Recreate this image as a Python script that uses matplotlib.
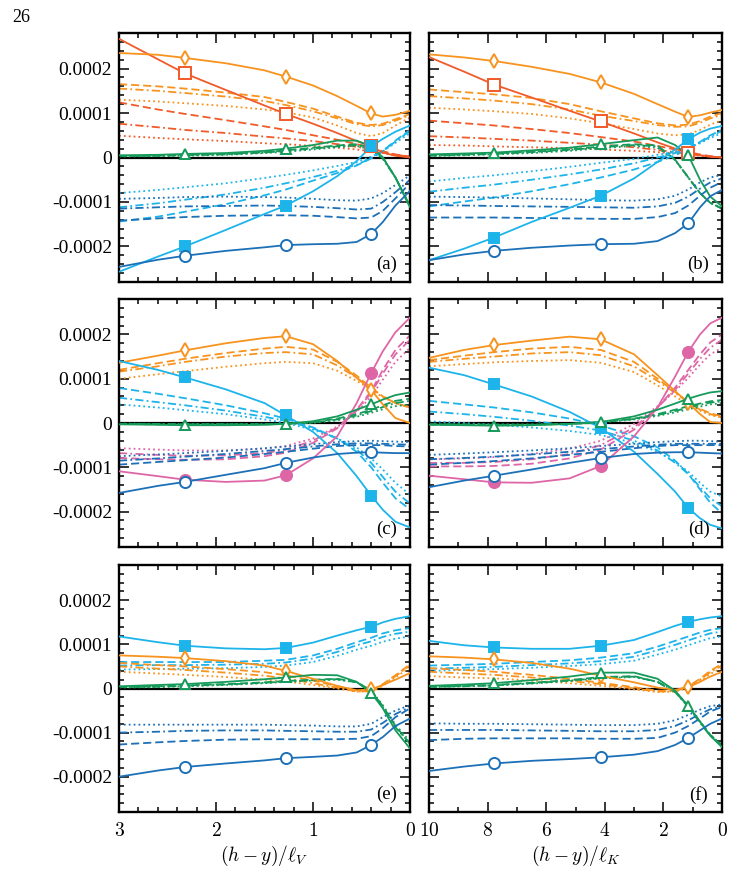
import matplotlib
matplotlib.use("Agg")
import matplotlib.pyplot as plt
from matplotlib.ticker import MultipleLocator, FuncFormatter

plt.rcParams["font.family"] = ["Liberation Serif", "DejaVu Serif"]
plt.rcParams["mathtext.fontset"] = "cm"

SCALE = 1e-4  # values below are in units of 1e-4

# x sample positions (left column: (h-y)/l_V, right column: (h-y)/l_K)
XL = [3, 2.6, 2.32, 1.9, 1.5, 1.28, 1.0, 0.75, 0.55, 0.4, 0.28, 0.15, 0]
XR = [10, 8.8, 7.78, 6.5, 5.2, 4.14, 3, 2.2, 1.6, 1.15, 0.75, 0.4, 0]
MARK_IDX = [2, 5, 9]

# Each family: [solid, dashed, dash-dot, dotted]
# ---------------- panel (a) ----------------
A_RED = [
    [2.67, 2.21, 1.89, 1.52, 1.17, 0.98, 0.76, 0.55, 0.37, 0.25, 0.11, 0.04, 0.0],
    [1.24, 1.08, 0.98, 0.84, 0.70, 0.62, 0.50, 0.40, 0.30, 0.22, 0.14, 0.07, 0.02],
    [0.76, 0.68, 0.62, 0.55, 0.47, 0.43, 0.37, 0.30, 0.24, 0.18, 0.12, 0.06, 0.02],
    [0.49, 0.44, 0.41, 0.37, 0.32, 0.30, 0.26, 0.22, 0.18, 0.14, 0.10, 0.05, 0.02],
]
A_ORANGE = [
    [2.35, 2.31, 2.24, 2.12, 1.96, 1.82, 1.62, 1.38, 1.16, 0.99, 0.92, 0.96, 1.05],
    [1.65, 1.60, 1.55, 1.46, 1.36, 1.25, 1.10, 0.92, 0.78, 0.73, 0.76, 0.86, 0.98],
    [1.55, 1.50, 1.45, 1.37, 1.27, 1.18, 1.04, 0.88, 0.75, 0.70, 0.73, 0.83, 0.95],
    [1.30, 1.26, 1.22, 1.16, 1.08, 1.02, 0.90, 0.72, 0.55, 0.48, 0.55, 0.72, 0.90],
]
A_GREEN = [
    [0.05, 0.06, 0.08, 0.10, 0.15, 0.20, 0.28, 0.38, 0.38, 0.25, 0.00, -0.45, -1.12],
    [0.03, 0.04, 0.06, 0.08, 0.12, 0.16, 0.22, 0.27, 0.30, 0.22, 0.00, -0.45, -1.10],
    [0.03, 0.04, 0.05, 0.07, 0.11, 0.15, 0.20, 0.25, 0.28, 0.20, -0.02, -0.45, -1.10],
    [0.02, 0.03, 0.04, 0.06, 0.10, 0.13, 0.18, 0.23, 0.26, 0.18, -0.03, -0.45, -1.08],
]
A_LBLUE = [
    [-2.57, -2.23, -2.00, -1.63, -1.27, -1.08, -0.76, -0.42, -0.08, 0.25, 0.42, 0.58, 0.72],
    [-1.44, -1.33, -1.22, -1.05, -0.85, -0.72, -0.52, -0.35, -0.18, -0.02, 0.15, 0.38, 0.62],
    [-1.12, -1.03, -0.95, -0.83, -0.68, -0.58, -0.44, -0.30, -0.16, -0.02, 0.14, 0.36, 0.60],
    [-0.80, -0.73, -0.67, -0.58, -0.46, -0.39, -0.29, -0.19, -0.10, 0.02, 0.14, 0.33, 0.55],
]
A_DBLUE = [
    [-2.46, -2.30, -2.21, -2.10, -2.02, -1.97, -1.95, -1.94, -1.90, -1.72, -1.45, -1.08, -0.75],
    [-1.42, -1.37, -1.34, -1.31, -1.30, -1.30, -1.31, -1.34, -1.37, -1.35, -1.20, -0.92, -0.58],
    [-1.15, -1.12, -1.10, -1.09, -1.08, -1.09, -1.11, -1.14, -1.17, -1.15, -1.00, -0.78, -0.50],
    [-0.93, -0.91, -0.89, -0.88, -0.89, -0.90, -0.93, -0.96, -0.97, -0.92, -0.80, -0.62, -0.40],
]
# ---------------- panel (b) ----------------
B_RED = [
    [2.26, 1.93, 1.64, 1.35, 1.05, 0.81, 0.54, 0.34, 0.20, 0.10, 0.05, 0.02, 0.0],
    [0.83, 0.77, 0.72, 0.64, 0.55, 0.46, 0.36, 0.26, 0.18, 0.12, 0.07, 0.03, 0.0],
    [0.48, 0.45, 0.42, 0.38, 0.33, 0.29, 0.23, 0.17, 0.12, 0.08, 0.05, 0.02, 0.0],
    [0.28, 0.27, 0.25, 0.23, 0.21, 0.18, 0.15, 0.12, 0.09, 0.06, 0.04, 0.02, 0.0],
]
B_ORANGE = [
    [2.32, 2.25, 2.17, 2.04, 1.88, 1.69, 1.43, 1.20, 1.03, 0.91, 0.95, 1.01, 1.07],
    [1.53, 1.47, 1.42, 1.34, 1.20, 1.04, 0.88, 0.77, 0.72, 0.74, 0.82, 0.92, 1.00],
    [1.38, 1.33, 1.28, 1.20, 1.08, 0.94, 0.82, 0.73, 0.69, 0.70, 0.78, 0.88, 0.96],
    [1.12, 1.08, 1.04, 0.98, 0.88, 0.77, 0.64, 0.54, 0.50, 0.52, 0.62, 0.74, 0.84],
]
B_GREEN = [
    [0.07, 0.09, 0.11, 0.16, 0.22, 0.30, 0.39, 0.45, 0.28, 0.05, -0.50, -0.88, -1.10],
    [0.05, 0.07, 0.09, 0.13, 0.18, 0.25, 0.30, 0.27, -0.05, -0.45, -0.80, -1.02, -1.15],
    [0.04, 0.06, 0.08, 0.12, 0.17, 0.23, 0.28, 0.25, -0.05, -0.45, -0.80, -1.02, -1.15],
    [0.03, 0.05, 0.07, 0.10, 0.15, 0.21, 0.26, 0.22, -0.06, -0.45, -0.80, -1.02, -1.14],
]
B_LBLUE = [
    [-2.31, -2.05, -1.80, -1.45, -1.13, -0.86, -0.47, -0.10, 0.18, 0.41, 0.56, 0.65, 0.71],
    [-1.10, -0.99, -0.90, -0.76, -0.60, -0.45, -0.27, -0.10, 0.05, 0.20, 0.35, 0.50, 0.62],
    [-0.77, -0.68, -0.61, -0.50, -0.38, -0.27, -0.13, 0.00, 0.10, 0.22, 0.34, 0.47, 0.60],
    [-0.54, -0.46, -0.40, -0.31, -0.21, -0.12, -0.03, 0.06, 0.13, 0.22, 0.32, 0.44, 0.55],
]
B_DBLUE = [
    [-2.31, -2.18, -2.10, -2.03, -1.98, -1.95, -1.94, -1.88, -1.70, -1.48, -1.12, -0.87, -0.73],
    [-1.35, -1.35, -1.35, -1.36, -1.37, -1.38, -1.38, -1.34, -1.25, -1.08, -0.86, -0.68, -0.55],
    [-1.07, -1.08, -1.09, -1.10, -1.11, -1.12, -1.13, -1.10, -1.02, -0.88, -0.70, -0.56, -0.47],
    [-0.88, -0.89, -0.90, -0.92, -0.94, -0.96, -0.97, -0.94, -0.86, -0.72, -0.56, -0.45, -0.39],
]
# ---------------- panel (c) ----------------
C_ORANGE = [
    [1.36, 1.52, 1.64, 1.80, 1.92, 1.96, 1.78, 1.40, 1.02, 0.75, 0.42, 0.11, 0.0],
    [1.20, 1.35, 1.45, 1.58, 1.68, 1.72, 1.66, 1.38, 1.07, 0.80, 0.60, 0.45, 0.35],
    [1.16, 1.28, 1.38, 1.50, 1.58, 1.60, 1.55, 1.30, 1.02, 0.78, 0.60, 0.45, 0.35],
    [1.00, 1.10, 1.17, 1.27, 1.35, 1.38, 1.35, 1.18, 0.95, 0.75, 0.58, 0.45, 0.35],
]
C_LBLUE = [
    [1.40, 1.20, 1.03, 0.76, 0.45, 0.17, -0.20, -0.68, -1.20, -1.64, -1.96, -2.23, -2.36],
    [0.79, 0.66, 0.56, 0.40, 0.22, 0.10, -0.10, -0.35, -0.65, -1.00, -1.35, -1.70, -1.95],
    [0.57, 0.47, 0.40, 0.28, 0.14, 0.05, -0.12, -0.35, -0.60, -0.90, -1.22, -1.55, -1.82],
    [0.42, 0.35, 0.29, 0.20, 0.08, 0.00, -0.15, -0.35, -0.55, -0.80, -1.05, -1.35, -1.62],
]
C_PINK = [
    [-1.09, -1.20, -1.28, -1.33, -1.30, -1.18, -0.80, -0.30, 0.45, 1.13, 1.62, 2.05, 2.38],
    [-0.79, -0.82, -0.83, -0.82, -0.75, -0.67, -0.45, -0.12, 0.30, 0.72, 1.20, 1.65, 1.98],
    [-0.68, -0.72, -0.74, -0.73, -0.68, -0.60, -0.40, -0.10, 0.28, 0.68, 1.12, 1.55, 1.88],
    [-0.57, -0.60, -0.62, -0.62, -0.58, -0.52, -0.35, -0.08, 0.25, 0.60, 0.98, 1.38, 1.70],
]
C_DBLUE = [
    [-1.58, -1.42, -1.33, -1.17, -1.02, -0.90, -0.78, -0.70, -0.67, -0.66, -0.67, -0.68, -0.68],
    [-0.94, -0.88, -0.84, -0.78, -0.70, -0.65, -0.58, -0.52, -0.50, -0.50, -0.50, -0.52, -0.53],
    [-0.85, -0.80, -0.76, -0.70, -0.63, -0.59, -0.53, -0.48, -0.46, -0.46, -0.47, -0.48, -0.49],
    [-0.75, -0.71, -0.68, -0.63, -0.57, -0.53, -0.48, -0.43, -0.41, -0.40, -0.41, -0.42, -0.43],
]
C_GREEN = [
    [-0.03, -0.04, -0.05, -0.05, -0.04, -0.02, 0.04, 0.15, 0.30, 0.42, 0.53, 0.63, 0.69],
    [-0.02, -0.03, -0.03, -0.03, -0.03, -0.02, 0.02, 0.10, 0.20, 0.30, 0.40, 0.50, 0.55],
    [-0.02, -0.02, -0.03, -0.03, -0.03, -0.02, 0.01, 0.08, 0.17, 0.27, 0.36, 0.45, 0.50],
    [-0.01, -0.02, -0.02, -0.02, -0.02, -0.02, 0.00, 0.06, 0.14, 0.23, 0.31, 0.38, 0.42],
]
# ---------------- panel (d) ----------------
D_ORANGE = [
    [1.47, 1.65, 1.76, 1.86, 1.95, 1.89, 1.55, 1.08, 0.72, 0.45, 0.20, 0.02, 0.0],
    [1.42, 1.52, 1.60, 1.68, 1.72, 1.65, 1.38, 1.00, 0.70, 0.48, 0.32, 0.22, 0.15],
    [1.38, 1.45, 1.50, 1.57, 1.60, 1.53, 1.28, 0.95, 0.68, 0.47, 0.30, 0.20, 0.13],
    [1.28, 1.33, 1.37, 1.40, 1.42, 1.36, 1.15, 0.85, 0.60, 0.42, 0.28, 0.18, 0.12],
]
D_LBLUE = [
    [1.25, 1.08, 0.87, 0.60, 0.25, -0.11, -0.65, -1.15, -1.55, -1.92, -2.15, -2.30, -2.38],
    [0.50, 0.42, 0.35, 0.24, 0.10, -0.05, -0.30, -0.55, -0.85, -1.15, -1.50, -1.80, -2.04],
    [0.26, 0.20, 0.14, 0.05, -0.06, -0.17, -0.40, -0.62, -0.90, -1.15, -1.45, -1.70, -1.88],
    [0.04, 0.00, -0.04, -0.10, -0.18, -0.27, -0.45, -0.65, -0.88, -1.10, -1.35, -1.55, -1.66],
]
D_PINK = [
    [-1.19, -1.27, -1.34, -1.35, -1.25, -0.97, -0.30, 0.35, 1.05, 1.61, 2.00, 2.25, 2.38],
    [-0.98, -0.98, -0.97, -0.92, -0.80, -0.60, -0.15, 0.35, 0.80, 1.20, 1.55, 1.82, 2.00],
    [-0.90, -0.90, -0.88, -0.82, -0.70, -0.50, -0.10, 0.35, 0.75, 1.12, 1.45, 1.70, 1.88],
    [-0.82, -0.80, -0.77, -0.70, -0.58, -0.40, -0.02, 0.38, 0.72, 1.02, 1.32, 1.55, 1.70],
]
D_DBLUE = [
    [-1.45, -1.30, -1.19, -1.05, -0.90, -0.79, -0.70, -0.67, -0.66, -0.66, -0.67, -0.68, -0.69],
    [-0.94, -0.90, -0.86, -0.80, -0.72, -0.65, -0.57, -0.52, -0.50, -0.50, -0.50, -0.50, -0.50],
    [-0.82, -0.79, -0.76, -0.71, -0.65, -0.59, -0.53, -0.49, -0.47, -0.47, -0.47, -0.47, -0.47],
    [-0.72, -0.69, -0.66, -0.62, -0.57, -0.52, -0.47, -0.43, -0.41, -0.40, -0.40, -0.41, -0.42],
]
D_GREEN = [
    [-0.04, -0.05, -0.06, -0.05, -0.02, 0.02, 0.15, 0.30, 0.44, 0.55, 0.63, 0.69, 0.72],
    [-0.03, -0.04, -0.04, -0.04, -0.02, 0.02, 0.10, 0.20, 0.30, 0.38, 0.44, 0.49, 0.52],
    [-0.03, -0.03, -0.04, -0.04, -0.02, 0.02, 0.09, 0.18, 0.27, 0.35, 0.41, 0.46, 0.49],
    [-0.02, -0.03, -0.03, -0.03, -0.02, 0.01, 0.08, 0.16, 0.24, 0.31, 0.37, 0.42, 0.45],
]
# ---------------- panel (e) ----------------
E_LBLUE = [
    [1.18, 1.05, 0.97, 0.91, 0.89, 0.92, 1.04, 1.20, 1.32, 1.40, 1.50, 1.58, 1.64],
    [0.60, 0.60, 0.60, 0.60, 0.63, 0.65, 0.75, 0.90, 1.05, 1.15, 1.25, 1.32, 1.37],
    [0.52, 0.53, 0.53, 0.54, 0.56, 0.59, 0.68, 0.83, 0.98, 1.07, 1.17, 1.24, 1.29],
    [0.43, 0.44, 0.45, 0.46, 0.49, 0.52, 0.60, 0.74, 0.88, 0.97, 1.06, 1.13, 1.18],
]
E_ORANGE = [
    [0.75, 0.72, 0.69, 0.62, 0.52, 0.40, 0.22, 0.06, -0.04, -0.02, 0.08, 0.20, 0.35],
    [0.58, 0.53, 0.50, 0.44, 0.37, 0.30, 0.18, 0.05, -0.05, -0.05, 0.10, 0.30, 0.55],
    [0.50, 0.45, 0.42, 0.36, 0.29, 0.23, 0.12, 0.02, -0.07, -0.06, 0.08, 0.28, 0.52],
    [0.38, 0.34, 0.31, 0.26, 0.20, 0.16, 0.08, 0.00, -0.07, -0.07, 0.06, 0.25, 0.48],
]
E_GREEN = [
    [0.05, 0.08, 0.10, 0.15, 0.21, 0.25, 0.31, 0.30, 0.15, -0.10, -0.45, -0.95, -1.36],
    [0.03, 0.05, 0.07, 0.10, 0.14, 0.17, 0.20, 0.22, 0.15, -0.05, -0.40, -0.85, -1.25],
    [0.03, 0.04, 0.06, 0.09, 0.13, 0.16, 0.19, 0.21, 0.14, -0.06, -0.42, -0.88, -1.25],
    [0.02, 0.03, 0.05, 0.08, 0.12, 0.15, 0.18, 0.20, 0.14, -0.04, -0.38, -0.82, -1.20],
]
E_DBLUE = [
    [-2.00, -1.86, -1.78, -1.70, -1.63, -1.58, -1.55, -1.52, -1.45, -1.28, -1.10, -0.85, -0.68],
    [-1.27, -1.22, -1.19, -1.16, -1.15, -1.15, -1.15, -1.15, -1.14, -1.08, -0.90, -0.65, -0.45],
    [-1.00, -0.98, -0.96, -0.95, -0.95, -0.96, -0.97, -0.98, -0.98, -0.93, -0.78, -0.58, -0.42],
    [-0.82, -0.82, -0.82, -0.82, -0.82, -0.83, -0.84, -0.86, -0.86, -0.80, -0.65, -0.50, -0.38],
]
# ---------------- panel (f) ----------------
F_LBLUE = [
    [1.08, 0.98, 0.93, 0.90, 0.90, 0.97, 1.10, 1.28, 1.42, 1.51, 1.57, 1.61, 1.64],
    [0.52, 0.54, 0.56, 0.60, 0.64, 0.70, 0.80, 0.95, 1.08, 1.18, 1.27, 1.33, 1.37],
    [0.45, 0.47, 0.49, 0.53, 0.57, 0.62, 0.72, 0.87, 0.99, 1.09, 1.18, 1.25, 1.29],
    [0.40, 0.42, 0.44, 0.47, 0.51, 0.55, 0.63, 0.77, 0.88, 0.98, 1.07, 1.14, 1.18],
]
F_ORANGE = [
    [0.73, 0.70, 0.66, 0.58, 0.45, 0.29, 0.14, 0.02, -0.03, 0.03, 0.15, 0.27, 0.38],
    [0.46, 0.42, 0.38, 0.31, 0.22, 0.13, 0.03, -0.05, -0.05, 0.05, 0.22, 0.40, 0.56],
    [0.38, 0.34, 0.31, 0.25, 0.17, 0.10, 0.00, -0.07, -0.06, 0.04, 0.20, 0.37, 0.52],
    [0.28, 0.25, 0.23, 0.18, 0.12, 0.06, -0.02, -0.08, -0.07, 0.02, 0.17, 0.33, 0.47],
]
F_GREEN = [
    [0.06, 0.09, 0.12, 0.19, 0.27, 0.36, 0.36, 0.22, -0.05, -0.40, -0.75, -1.07, -1.33],
    [0.04, 0.06, 0.08, 0.13, 0.19, 0.26, 0.28, 0.15, -0.08, -0.40, -0.75, -1.05, -1.30],
    [0.04, 0.05, 0.07, 0.12, 0.18, 0.24, 0.27, 0.15, -0.08, -0.42, -0.78, -1.07, -1.30],
    [0.03, 0.05, 0.07, 0.11, 0.17, 0.23, 0.26, 0.15, -0.06, -0.40, -0.75, -1.05, -1.28],
]
F_DBLUE = [
    [-1.87, -1.77, -1.70, -1.64, -1.60, -1.56, -1.50, -1.42, -1.28, -1.12, -0.95, -0.80, -0.68],
    [-1.17, -1.14, -1.13, -1.13, -1.13, -1.14, -1.14, -1.12, -1.00, -0.85, -0.68, -0.52, -0.42],
    [-0.94, -0.94, -0.94, -0.95, -0.96, -0.97, -0.97, -0.94, -0.85, -0.72, -0.58, -0.47, -0.40],
    [-0.79, -0.80, -0.80, -0.81, -0.82, -0.83, -0.83, -0.80, -0.72, -0.60, -0.48, -0.40, -0.36],
]

PANEL_LABELS = ["(a)", "(b)", "(c)", "(d)", "(e)", "(f)"]
Y_TICK_LABELS = {2: "0.0002", 1: "0.0001", 0: "0", -1: "-0.0001", -2: "-0.0002"}
XLABELS = [r"$(h-y)/\ell_V$", r"$(h-y)/\ell_K$"]

# ---------------- styles ----------------
RED = "#f15a29"
ORANGE = "#f7931e"
GREEN = "#159a5a"
LBLUE = "#1cb4ea"
DBLUE = "#1c70b8"
PINK = "#de66a6"

STYLE = {
    "red": dict(color=RED, marker="s", mfc="white", ms=8.0),
    "orange": dict(color=ORANGE, marker="d", mfc="white", ms=7.5),
    "green": dict(color=GREEN, marker="^", mfc="white", ms=7.0),
    "lblue": dict(color=LBLUE, marker="s", mfc=LBLUE, ms=7.5),
    "dblue": dict(color=DBLUE, marker="o", mfc="white", ms=8.0),
    "pink": dict(color=PINK, marker="o", mfc=PINK, ms=8.0),
}
LINESTYLES = ["-", (0, (4.5, 2.2)), (0, (4.5, 1.8, 1.0, 1.8)), (0, (1.0, 1.7))]
LW = 1.3

PANELS = [
    (XL, [("red", A_RED), ("orange", A_ORANGE), ("green", A_GREEN), ("lblue", A_LBLUE), ("dblue", A_DBLUE)]),
    (XR, [("red", B_RED), ("orange", B_ORANGE), ("green", B_GREEN), ("lblue", B_LBLUE), ("dblue", B_DBLUE)]),
    (XL, [("orange", C_ORANGE), ("lblue", C_LBLUE), ("pink", C_PINK), ("dblue", C_DBLUE), ("green", C_GREEN)]),
    (XR, [("orange", D_ORANGE), ("lblue", D_LBLUE), ("pink", D_PINK), ("dblue", D_DBLUE), ("green", D_GREEN)]),
    (XL, [("lblue", E_LBLUE), ("orange", E_ORANGE), ("green", E_GREEN), ("dblue", E_DBLUE)]),
    (XR, [("lblue", F_LBLUE), ("orange", F_ORANGE), ("green", F_GREEN), ("dblue", F_DBLUE)]),
]

fig = plt.figure(figsize=(7.33, 8.94), dpi=100)

col_x = [(119 / 733, 291 / 733), (429 / 733, 293 / 733)]
row_y = [(1 - 282 / 894, 249 / 894), (1 - 547 / 894, 248 / 894), (1 - 812 / 894, 247 / 894)]


def yfmt(v, pos):
    k = int(round(v / SCALE))
    return Y_TICK_LABELS.get(k, "")


for i, (xs, families) in enumerate(PANELS):
    r, c = divmod(i, 2)
    ax = fig.add_axes([col_x[c][0], row_y[r][0], col_x[c][1], row_y[r][1]])
    ax.axhline(0, color="black", lw=1.6, zorder=1)

    # non-solid lines first
    for name, fam in families:
        st = STYLE[name]
        for j in (1, 2, 3):
            ax.plot(xs, [v * SCALE for v in fam[j]], color=st["color"], lw=LW,
                    ls=LINESTYLES[j], zorder=2)
    # solid lines
    for name, fam in families:
        st = STYLE[name]
        ax.plot(xs, [v * SCALE for v in fam[0]], color=st["color"], lw=LW, ls="-", zorder=3)
    # markers
    for name, fam in families:
        st = STYLE[name]
        mx = [xs[k] for k in MARK_IDX]
        my = [fam[0][k] * SCALE for k in MARK_IDX]
        ax.plot(mx, my, ls="none", marker=st["marker"], ms=st["ms"], mfc=st["mfc"],
                mec=st["color"], mew=1.4, zorder=4)

    if c == 0:
        ax.set_xlim(3, 0)
        ax.xaxis.set_major_locator(MultipleLocator(1))
        ax.xaxis.set_minor_locator(MultipleLocator(0.2))
    else:
        ax.set_xlim(10, 0)
        ax.xaxis.set_major_locator(MultipleLocator(2))
        ax.xaxis.set_minor_locator(MultipleLocator(1))
    ax.set_ylim(-2.8 * SCALE, 2.8 * SCALE)
    ax.yaxis.set_major_locator(MultipleLocator(1 * SCALE))
    ax.yaxis.set_minor_locator(MultipleLocator(0.2 * SCALE))

    ax.tick_params(which="both", direction="in", top=True, right=True, width=1.1)
    ax.tick_params(which="major", length=7)
    ax.tick_params(which="minor", length=3.5)
    ax.tick_params(axis="y", labelsize=14, pad=5)
    ax.tick_params(axis="x", labelsize=14, pad=7)
    for sp in ax.spines.values():
        sp.set_linewidth(1.7)

    if c == 0:
        ax.yaxis.set_major_formatter(FuncFormatter(yfmt))
    else:
        ax.set_yticklabels([])
    if r == 2:
        ax.xaxis.set_major_formatter(FuncFormatter(lambda v, p: "$%d$" % int(round(v))))
    else:
        ax.set_xticklabels([])

    ax.text(0.92, 0.07, PANEL_LABELS[i], transform=ax.transAxes, ha="center",
            va="center", fontsize=13.5)

fig.text((119 + 410) / 2 / 733, 1 - 856 / 894, XLABELS[0], ha="center", va="center", fontsize=14)
fig.text((429 + 722) / 2 / 733, 1 - 856 / 894, XLABELS[1], ha="center", va="center", fontsize=14)
fig.text(12 / 733, 1 - 17 / 894, "26", ha="left", va="center", fontsize=13)

fig.savefig("out.png", dpi=100)
